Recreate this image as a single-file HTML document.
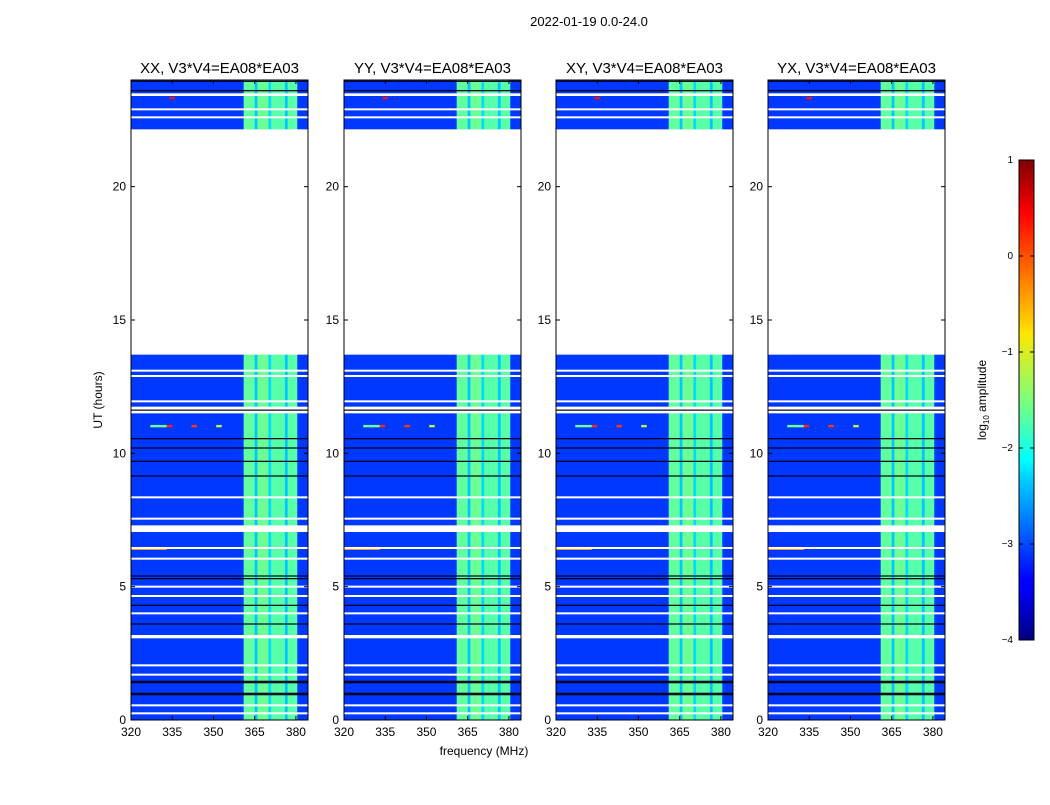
<!DOCTYPE html>
<html><head><meta charset="utf-8">
<style>
body{margin:0;background:#fff;font-family:"Liberation Sans","DejaVu Sans",sans-serif;}
svg text{font-family:"Liberation Sans","DejaVu Sans",sans-serif;}
</style></head>
<body>
<svg id="fig" width="1050" height="800" xmlns="http://www.w3.org/2000/svg">
<rect width="1050" height="800" fill="#fff"/>
<text x="589" y="26" font-size="13" text-anchor="middle">2022-01-19 0.0-24.0</text>
<text x="484" y="755" font-size="12" text-anchor="middle">frequency (MHz)</text>
<text transform="translate(102,400) rotate(-90)" font-size="12" text-anchor="middle">UT (hours)</text>
<defs>
<linearGradient id="jetg" x1="0" y1="1" x2="0" y2="0">
<stop offset="0" stop-color="#000080"/><stop offset="0.11" stop-color="#0000ff"/><stop offset="0.125" stop-color="#0000ff"/>
<stop offset="0.34" stop-color="#00d4ff"/><stop offset="0.375" stop-color="#00ffff"/><stop offset="0.5" stop-color="#7dff7a"/>
<stop offset="0.64" stop-color="#ffe600"/><stop offset="0.66" stop-color="#ffd000"/><stop offset="0.89" stop-color="#ff0000"/><stop offset="1" stop-color="#800000"/>
</linearGradient>
</defs>
<g id="panels"></g>
<g id="cbar">
<rect x="1019" y="160" width="15" height="480" fill="url(#jetg)" stroke="#000" stroke-width="1"/>
</g>
<text transform="translate(986,400) rotate(-90)" font-size="12" text-anchor="middle">log<tspan font-size="8" dy="3">10</tspan><tspan dy="-3"> amplitude</tspan></text>
</svg>
<script>
const panelTitles=["XX, V3*V4=EA08*EA03","YY, V3*V4=EA08*EA03","XY, V3*V4=EA08*EA03","YX, V3*V4=EA08*EA03"];
const panelLefts=[131,344,556,768];
const xTicks=[320,335,350,365,380];
const yTicks=[0,5,10,15,20];
const cbTicks=[1,0,-1,-2,-3,-4];
// time segments (hours) where data exist
const dataSegments=[[0,7.05],[7.3,11.5],[11.75,13.7],[22.15,23.4],[23.5,24]];
// white (flagged) lines, hours
const whiteLines=[0.25,0.55,1.7,2.05,3.1,3.15,4.0,4.65,5.0,6.05,6.45,7.55,8.35,11.6,11.95,12.9,13.1,22.6,22.9,23.45];
// dark lines, hours
const darkLines=[0.95,1.0,1.4,1.45,3.6,4.3,5.3,5.4,9.15,9.7,10.2,10.55,11.62,23.6,23.95];
// frequency bin edges (MHz) and log amplitude per bin
const freqEdges=[320,361,365,366,370,371,376,377,380.5,384.4];
const freqVals=[-3.1,-1.65,-2.4,-1.6,-2.3,-1.7,-2.4,-1.7,-3.1];
// hot spots [hour, fmin, fmax, value]
const hotSpots=[[11.02,333,335,0.2],[11.02,342,344,0.1],[11.02,327,333,-1.6],[11.02,351,353,-1.2],[6.42,320,333,-0.4],[23.32,334,336,0.3]];

const H0=80,H1=720,W=177,F0=320,F1=384.4,T0=0,T1=24;
function xs(l,f){return l+(f-F0)/(F1-F0)*W;}
function ys(t){return H1-(t-T0)/(T1-T0)*(H1-H0);}
function jet(v){const t=Math.max(0,Math.min(1,(v+4)/5));const c=x=>Math.round(255*Math.max(0,Math.min(1,1.5-Math.abs(4*t-x))));return `rgb(${c(3)},${c(2)},${c(1)})`;}
const NS="http://www.w3.org/2000/svg";
function el(tag,attrs,parent){const e=document.createElementNS(NS,tag);for(const k in attrs)e.setAttribute(k,attrs[k]);parent.appendChild(e);return e;}
const root=document.getElementById('panels');
panelLefts.forEach((L,pi)=>{
  const g=el('g',{},root);
  
  
  dataSegments.forEach(s=>{
    freqVals.forEach((v,i)=>{
      const r=el('rect',{x:xs(L,freqEdges[i]),y:ys(s[1]),width:xs(L,freqEdges[i+1])-xs(L,freqEdges[i])+0.3,height:ys(s[0])-ys(s[1]),fill:jet(v)},g);
      
      
    });
  });
  hotSpots.forEach(h=>{
    const r=el('rect',{x:xs(L,h[1]),y:ys(h[0])-1.2,width:xs(L,h[2])-xs(L,h[1]),height:2.4,fill:jet(h[3])},g);
    
    
  });
  whiteLines.forEach(t=>{
    const r=el('rect',{x:L,y:ys(t)-1,width:W,height:2,fill:'#fff'},g);
    
    
  });
  darkLines.forEach(t=>{
    const r=el('rect',{x:L,y:ys(t)-0.6,width:W,height:1.2,fill:'#000018'},g);
    
    
  });
  const fr=el('rect',{x:L,y:H0,width:W,height:H1-H0,fill:'none',stroke:'#000','stroke-width':1},g);
  
  
  xTicks.forEach(v=>{
    const x=xs(L,v);
    el('line',{x1:x,x2:x,y1:H1,y2:H1-4,stroke:'#000'},g);
    el('line',{x1:x,x2:x,y1:H0,y2:H0+4,stroke:'#000'},g);
    const t=el('text',{x:x,y:H1+16,'font-size':12,'text-anchor':'middle'},g);t.textContent=v;
    
    
  });
  yTicks.forEach(v=>{
    const y=ys(v);
    el('line',{x1:L,x2:L+4,y1:y,y2:y,stroke:'#000'},g);
    el('line',{x1:L+W,x2:L+W-4,y1:y,y2:y,stroke:'#000'},g);
    const t=el('text',{x:L-5,y:y+4,'font-size':12,'text-anchor':'end'},g);t.textContent=v;
    
    
  });
  const tt=el('text',{x:L+W/2,y:73,'font-size':15,'text-anchor':'middle'},g);tt.textContent=panelTitles[pi];
  
  
});
const cb=document.getElementById('cbar');
cbTicks.forEach(v=>{
  const y=640-(v+4)/5*480;
  el('line',{x1:1019,x2:1023,y1:y,y2:y,stroke:'#000'},cb);
  el('line',{x1:1034,x2:1030,y1:y,y2:y,stroke:'#000'},cb);
  const t=el('text',{x:1013,y:y+3,'font-size':10,'text-anchor':'end'},cb);t.textContent=(v<0?'\u2212'+(-v):v);
  
  
});
</script>
</body></html>
